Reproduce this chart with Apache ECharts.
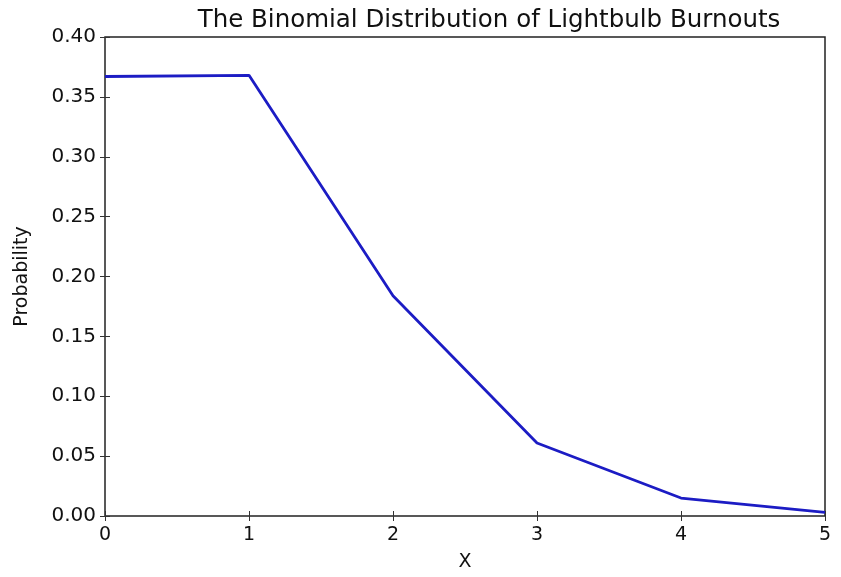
<!DOCTYPE html>
<html lang="en">
<head>
    <meta charset="UTF-8">
    <title>Lightbulb Burnouts</title>
    <script src="https://cdn.jsdelivr.net/npm/echarts@6/dist/echarts.min.js"></script>
    <style>
        html, body { margin: 0; padding: 0; background: #fff; }
        #main { width: 841px; height: 577px; }
    </style>
</head>
<body>
<div id="main"></div>
<script type="text/javascript">
    // data
    var xValues = [0, 1, 2, 3, 4, 5];
    var probValues = [0.367, 0.368, 0.184, 0.061, 0.015, 0.003];

    var points = xValues.map(function (x, i) { return [x, probValues[i]]; });

    var myChart = echarts.init(document.getElementById('main'));
    var font = 'DejaVu Sans';

    var tickIn = { show: true, inside: true, length: 5, lineStyle: { color: '#333' } };
    var noLine = { show: false };

    var option = {
        animation: false,
        title: {
            text: 'The Binomial Distribution of Lightbulb Burnouts',
            left: 484, top: 3, textAlign: 'center',
            textStyle: { fontFamily: font, fontSize: 24.5, fontWeight: 'normal', color: '#111' }
        },
        grid: {
            left: 105, right: 16, top: 37, bottom: 59,
            show: true, borderColor: '#222', borderWidth: 1.5, backgroundColor: '#fff'
        },
        xAxis: [{
            type: 'value', min: 0, max: 5, interval: 1,
            name: 'X', nameLocation: 'middle', nameGap: 37,
            nameTextStyle: { fontFamily: font, fontSize: 19, color: '#111' },
            axisLine: noLine, axisTick: tickIn, splitLine: { show: false },
            axisLabel: { fontFamily: font, fontSize: 19, color: '#111', margin: 10 }
        }, {
            type: 'value', min: 0, max: 5, interval: 1, position: 'top',
            axisLine: noLine, axisTick: tickIn, splitLine: { show: false },
            axisLabel: { show: false }
        }],
        yAxis: [{
            type: 'value', min: 0, max: 0.4, interval: 0.05,
            name: 'Probability', nameLocation: 'middle', nameGap: 73,
            nameTextStyle: { fontFamily: font, fontSize: 19, color: '#111' },
            axisLine: noLine, axisTick: tickIn, splitLine: { show: false },
            axisLabel: {
                fontFamily: font, fontSize: 20, color: '#111', margin: 9,
                formatter: function (v) { return v.toFixed(2); }
            }
        }, {
            type: 'value', min: 0, max: 0.4, interval: 0.05, position: 'right',
            axisLine: noLine, axisTick: tickIn, splitLine: { show: false },
            axisLabel: { show: false }
        }],
        series: [{
            type: 'line',
            symbol: 'none', //去掉圆点
            data: points,
            lineStyle: { color: '#1c1cc4', width: 2.8 }
        }]
    };

    myChart.setOption(option);
</script>
</body>
</html>
